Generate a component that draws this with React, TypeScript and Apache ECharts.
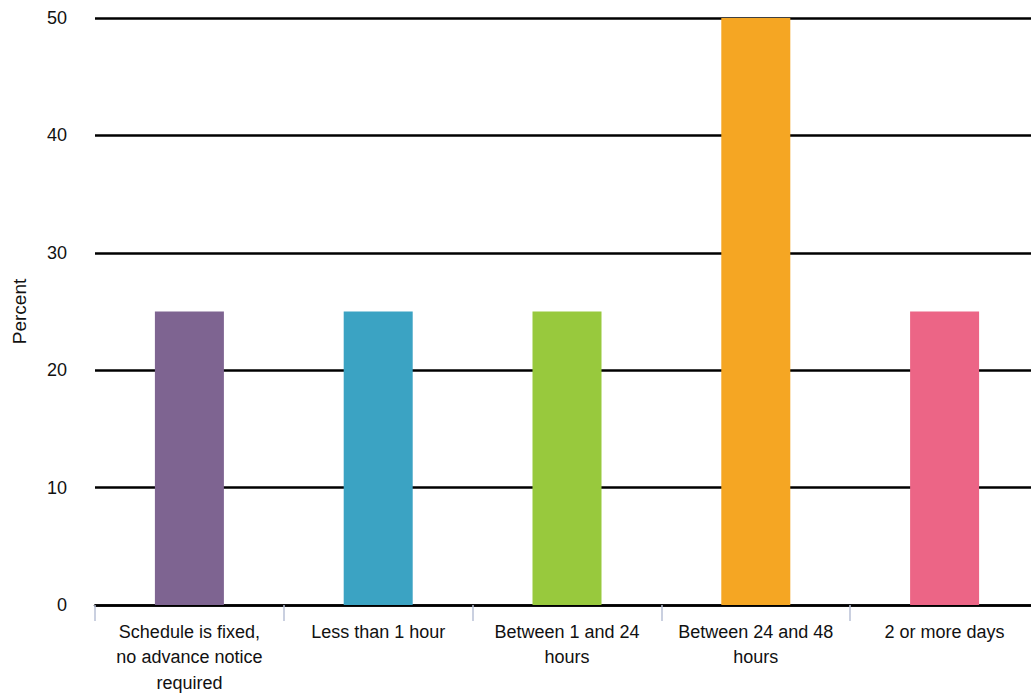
import React, { useEffect, useRef } from "react";
import * as echarts from "echarts";

// Advance notice categories (axis labels carry explicit line breaks)
const categories = [
  "Schedule is fixed, no advance notice required",
  "Less than 1 hour",
  "Between 1 and 24 hours",
  "Between 24 and 48 hours",
  "2 or more days",
];
const tickLabels = [
  "Schedule is fixed,\nno advance notice\nrequired",
  "Less than 1 hour",
  "Between 1 and 24\nhours",
  "Between 24 and 48\nhours",
  "2 or more days",
];
const percentValues = [25, 25, 25, 50, 25];
const barColors = ["#7E6491", "#3BA3C3", "#98C93D", "#F5A623", "#EC6586"];
const yTicks = [0, 10, 20, 30, 40, 50];

const FONT = "'Liberation Sans', Arial, Helvetica, sans-serif";

export default function App() {
  const ref = useRef<HTMLDivElement>(null);

  useEffect(() => {
    if (!ref.current) return;
    const chart = echarts.init(ref.current, undefined, { renderer: "svg" });
    chart.setOption({
      animation: false,
      backgroundColor: "#ffffff",
      grid: {
        left: 95,
        right: -8,
        top: 18,
        bottom: 88,
        containLabel: false,
        outerBoundsMode: "none",
      },
      xAxis: {
        type: "category",
        data: categories,
        boundaryGap: true,
        axisLine: { show: true, lineStyle: { color: "#000000", width: 2.5 } },
        axisTick: {
          show: true,
          length: 16,
          lineStyle: { color: "#B9C0D6", width: 1.5 },
        },
        axisLabel: {
          interval: 0,
          margin: 14,
          color: "#111111",
          fontFamily: FONT,
          fontSize: 18,
          lineHeight: 25.5,
          formatter: (_v: string, i: number) => tickLabels[i],
        },
      },
      yAxis: {
        type: "value",
        min: yTicks[0],
        max: yTicks[yTicks.length - 1],
        interval: 10,
        name: "Percent",
        nameLocation: "middle",
        nameGap: 66,
        nameRotate: 90,
        nameTextStyle: { color: "#111111", fontFamily: FONT, fontSize: 19 },
        axisLine: { show: false },
        axisTick: { show: false },
        axisLabel: {
          margin: 28,
          color: "#111111",
          fontFamily: FONT,
          fontSize: 18,
        },
        splitLine: { show: true, lineStyle: { color: "#000000", width: 2.5 } },
      },
      series: [
        {
          type: "bar",
          barWidth: 69,
          data: percentValues.map((v, i) => ({
            value: v,
            itemStyle: { color: barColors[i] },
          })),
        },
      ],
    });
    return () => chart.dispose();
  }, []);

  return (
    <div
      ref={ref}
      style={{ width: 1031, height: 693, position: "fixed", left: 0, top: 0 }}
    />
  );
}
